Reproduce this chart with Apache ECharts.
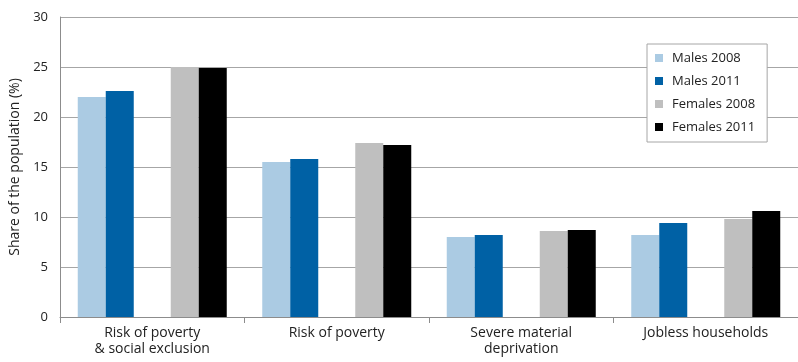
<!DOCTYPE html>
<html><head><meta charset="utf-8">
<script src="https://cdn.jsdelivr.net/npm/echarts@6/dist/echarts.min.js"></script>
<style>html,body{margin:0;padding:0;background:#fff}#c{width:798px;height:362px}</style>
</head><body><div id="c"></div>
<script>
const categories = ['Risk of poverty\n& social exclusion', 'Risk of poverty', 'Severe material\ndeprivation', 'Jobless households'];
const males2008 = [22.0, 15.5, 8.0, 8.2];
const males2011 = [22.6, 15.8, 8.2, 9.4];
const females2008 = [25.0, 17.4, 8.6, 9.8];
const females2011 = [24.9, 17.2, 8.7, 10.6];
const yTicks = [0, 5, 10, 15, 20, 25, 30];
const FONT = 'Open Sans';
const chart = echarts.init(document.getElementById('c'));
function bar(name, data, color) {
  return { name, type: 'bar', data, barWidth: 28, barGap: '0%', itemStyle: { color }, emphasis: { disabled: true } };
}
chart.setOption({
  animation: false,
  textStyle: { fontFamily: FONT },
  grid: { left: 60, right: -4, top: 17, bottom: 45, containLabel: false },
  legend: {
    data: ['Males 2008', 'Males 2011', 'Females 2008', 'Females 2011'],
    orient: 'vertical', left: 647, top: 44,
    itemWidth: 8, itemHeight: 8, itemGap: 7,
    padding: [6, 12, 7, 8],
    backgroundColor: '#fff', borderColor: '#a6a6a6', borderWidth: 1,
    icon: 'rect',
    textStyle: { fontFamily: FONT, fontSize: 13, color: '#222', lineHeight: 16, padding: [0, 0, 0, 4] }
  },
  xAxis: {
    type: 'category', data: categories,
    axisLine: { lineStyle: { color: '#8c8c8c' } },
    axisTick: { show: true, alignWithLabel: false, length: 6, lineStyle: { color: '#8c8c8c' } },
    axisLabel: { fontFamily: FONT, fontSize: 14, color: '#222', lineHeight: 16, margin: 8 }
  },
  yAxis: {
    type: 'value', min: yTicks[0], max: yTicks[yTicks.length - 1], interval: 5,
    name: 'Share of the population (%)', nameLocation: 'middle', nameGap: 34,
    nameTextStyle: { fontFamily: FONT, fontSize: 14, color: '#222' },
    axisLine: { show: true, lineStyle: { color: '#8c8c8c' } },
    axisTick: { show: false },
    axisLabel: { fontFamily: FONT, fontSize: 13, color: '#222', margin: 12 },
    splitLine: { lineStyle: { color: '#a6a6a6' } }
  },
  series: [
    bar('Males 2008', males2008, '#abcbe3'),
    bar('Males 2011', males2011, '#0061a5'),
    { name: 'gap', type: 'bar', data: [null, null, null, null], barWidth: 37, barGap: '0%' },
    bar('Females 2008', females2008, '#bfbfbf'),
    bar('Females 2011', females2011, '#000000')
  ]
});
</script></body></html>
